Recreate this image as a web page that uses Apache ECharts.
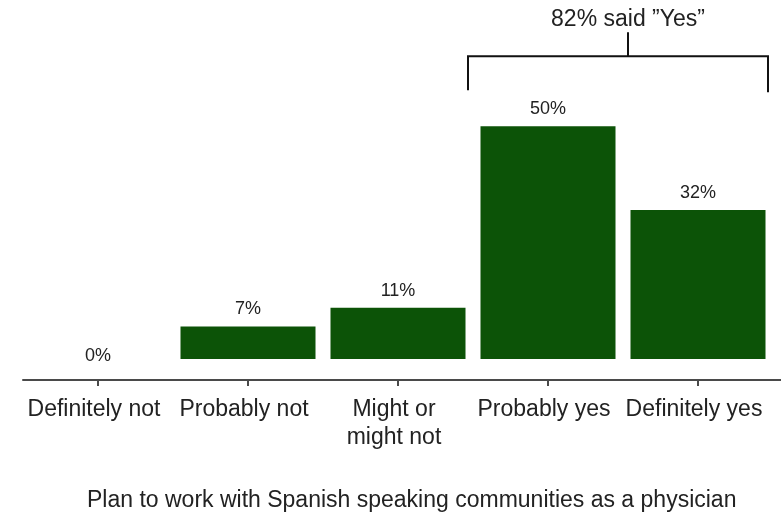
<!DOCTYPE html>
<html>
<head>
<meta charset="utf-8">
<script src="https://cdn.jsdelivr.net/npm/echarts@6/dist/echarts.min.js"></script>
<style>
  html, body { margin: 0; padding: 0; background: #fff; }
  #chart { width: 781px; height: 518px; }
</style>
</head>
<body>
<div id="chart"></div>
<script>
const categories = ['Definitely not', 'Probably not', 'Might or\nmight not', 'Probably yes', 'Definitely yes'];
const percents = [0, 7, 11, 50, 32];
const bracketText = '82% said \u201dYes\u201d';
const axisTitle = 'Plan to work with Spanish speaking communities as a physician';

const font = '"Liberation Sans", Arial, sans-serif';
const axisColor = '#4a4a4a';
const chart = echarts.init(document.getElementById('chart'));

// a zero bar has its label sitting just on the baseline
const barData = percents.map((v) => v === 0 ? { value: v, label: { distance: -6 } } : v);

chart.setOption({
  animation: false,
  title: {
    text: axisTitle,
    left: 82,
    top: 484,
    textStyle: { fontFamily: font, fontSize: 23, fontWeight: 'normal', color: '#222' }
  },
  grid: { left: 23, right: 8, top: 33, bottom: 159, containLabel: false },
  xAxis: {
    type: 'category',
    data: categories,
    offset: 21,
    axisLine: { onZero: false, lineStyle: { color: axisColor, width: 2 } },
    axisTick: { show: true, alignWithLabel: true, length: 6, lineStyle: { color: axisColor, width: 2 } },
    axisLabel: {
      interval: 0,
      margin: 16,
      padding: [0, 8, 0, 0],
      fontFamily: font,
      fontSize: 23,
      lineHeight: 28,
      color: '#222'
    }
  },
  yAxis: { type: 'value', min: 0, max: 70, show: false },
  series: [{
    type: 'bar',
    data: barData,
    barCategoryGap: '10%',
    itemStyle: { color: '#0c5307' },
    label: {
      show: true,
      position: 'top',
      distance: 8,
      formatter: '{c}%',
      fontFamily: font,
      fontSize: 18,
      color: '#222'
    }
  }]
});

// bracket over the two "yes" bars, plus the axis line running on to the edge
const left = chart.convertToPixel({ xAxisIndex: 0 }, 3) - 80;
const right = chart.convertToPixel({ xAxisIndex: 0 }, 4) + 70;
const stem = chart.convertToPixel({ xAxisIndex: 0 }, 3) + 80;
const barY = chart.convertToPixel({ yAxisIndex: 0 }, 65);
const baseY = chart.convertToPixel({ yAxisIndex: 0 }, 0) + 21;
const stroke = { stroke: '#111', lineWidth: 2 };
chart.setOption({
  graphic: [
    { type: 'polyline', shape: { points: [[left, barY + 34], [left, barY], [right, barY], [right, barY + 36]] }, style: Object.assign({ fill: null }, stroke) },
    { type: 'line', shape: { x1: stem, y1: barY, x2: stem, y2: barY - 24 }, style: stroke },
    { type: 'text', x: stem, y: barY - 37, style: { text: bracketText, fontFamily: font, fontSize: 23, fill: '#222', align: 'center', verticalAlign: 'middle' } },
    { type: 'line', shape: { x1: 770, y1: baseY, x2: 781, y2: baseY }, style: { stroke: axisColor, lineWidth: 2 } }
  ]
});
</script>
</body>
</html>
